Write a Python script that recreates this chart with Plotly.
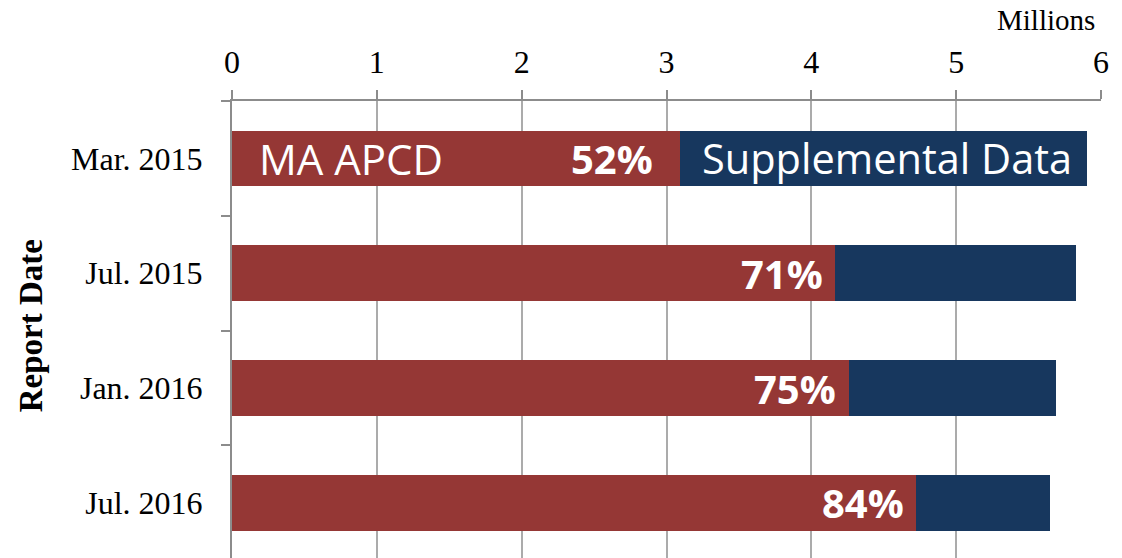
import plotly.graph_objects as go

categories = ["Mar. 2015", "Jul. 2015", "Jan. 2016", "Jul. 2016"]
ma_apcd = [3.09, 4.16, 4.26, 4.72]
supplemental = [2.81, 1.67, 1.43, 0.93]
pct_labels = ["52%", "71%", "75%", "84%"]
x_ticks = [0, 1, 2, 3, 4, 5, 6]

RED = "#953735"
NAVY = "#17375E"
SERIF = "Liberation Serif"
SANS = "Open Sans"

fig = go.Figure()
fig.add_trace(go.Bar(y=categories, x=ma_apcd, orientation="h", name="MA APCD",
                     marker=dict(color=RED, line=dict(width=0)), width=0.484))
fig.add_trace(go.Bar(y=categories, x=supplemental, orientation="h", name="Supplemental Data",
                     marker=dict(color=NAVY, line=dict(width=0)), width=0.484))

shifts = [-25, -10, -11, -10]
for cat, v, t, s in zip(categories, ma_apcd, pct_labels, shifts):
    fig.add_annotation(x=v, y=cat, text=t, showarrow=False, xanchor="right", yanchor="middle",
                       xshift=s, font=dict(family=SANS, size=40, color="white", weight="bold"))

fig.add_annotation(x=0, y=categories[0], text="MA APCD", showarrow=False, xanchor="left",
                   yanchor="middle", xshift=25, font=dict(family=SANS, size=42, color="white"))
fig.add_annotation(x=ma_apcd[0], y=categories[0], text="Supplemental Data", showarrow=False,
                   xanchor="left", yanchor="middle", xshift=20,
                   font=dict(family=SANS, size=41.5, color="white"))

fig.add_annotation(xref="paper", yref="paper", x=1, y=1, text="Millions", showarrow=False,
                   xanchor="right", yanchor="middle", xshift=-4, yshift=81,
                   font=dict(family=SERIF, size=29, color="black"))
fig.add_annotation(xref="paper", yref="paper", x=0, y=0.507, text="<b>Report Date</b>",
                   showarrow=False, textangle=-90, xanchor="center", yanchor="middle",
                   xshift=-201, font=dict(family=SERIF, size=33, color="black"))

fig.update_layout(
    barmode="stack",
    width=1122, height=558,
    margin=dict(l=232, r=21, t=101, b=0),
    paper_bgcolor="white", plot_bgcolor="white",
    showlegend=False,
    xaxis=dict(side="top", range=[0, 6], tickvals=x_ticks, ticktext=[str(v) for v in x_ticks],
               showgrid=True, gridcolor="#ABABAB", gridwidth=2,
               showline=True, linecolor="#8C8C8C", linewidth=2,
               ticks="outside", ticklen=9, tickwidth=2, tickcolor="#8C8C8C",
               tickfont=dict(family=SERIF, size=32, color="black"),
               ticklabelstandoff=4, zeroline=False, automargin=False),
    yaxis=dict(categoryorder="array", categoryarray=categories, range=[3.48, -0.5],
               showgrid=False, showline=True, linecolor="#8C8C8C", linewidth=2,
               ticks="outside", ticklen=9, tickwidth=2, tickcolor="#8C8C8C",
               tickson="boundaries",
               tickfont=dict(family=SERIF, size=32, color="black"),
               ticklabelstandoff=21, automargin=False),
)

fig.write_html("out.html", config={"displayModeBar": False},
               post_script="document.body.style.margin='0';")
